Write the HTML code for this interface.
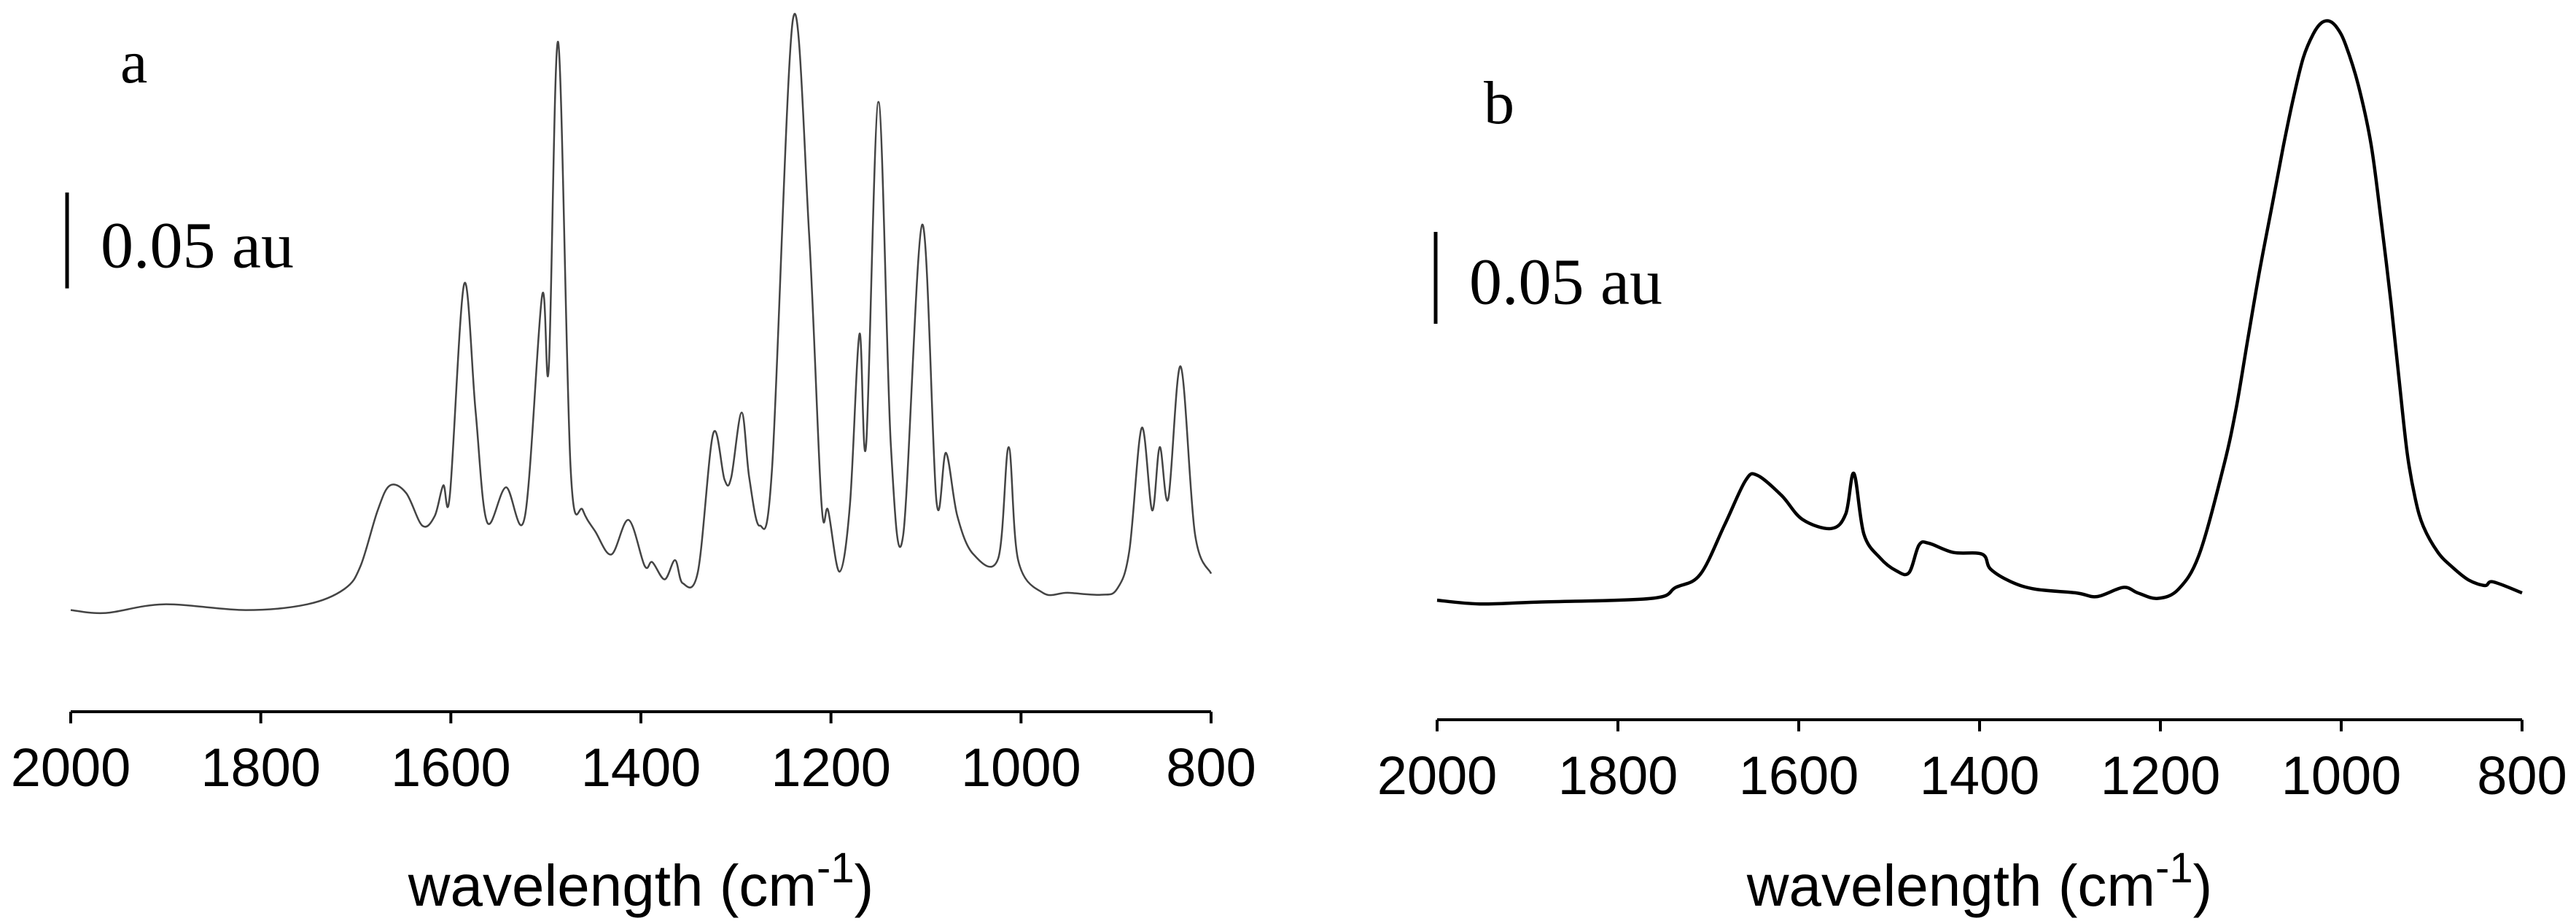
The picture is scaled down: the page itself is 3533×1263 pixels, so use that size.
<!DOCTYPE html>
<html><head><meta charset="utf-8"><style>
html,body{margin:0;padding:0;background:#fff;}
svg{display:block;}
</style></head><body>
<svg id="chart" width="3533" height="1263" viewBox="0 0 3533 1263" xmlns="http://www.w3.org/2000/svg">
<g id="panelA"></g>
<g id="panelB"></g>
</svg>
<script>
const tickLabels = [2000, 1800, 1600, 1400, 1200, 1000, 800];
const wnA = [2000,1963,1902,1816,1751,1712,1695,1677,1664,1647,1630,1617,1608,1601,1586,1574,1562,1542,1522,1504,1497,1487,1474,1461,1448,1431,1413,1396,1388,1375,1364,1356,1340,1324,1312,1305,1294,1286,1275,1262,1240,1223,1210,1203,1191,1180,1170,1163,1150,1137,1124,1104,1089,1079,1067,1050,1024,1013,1003,977,951,916,899,886,873,862,854,845,832,817,800];
const absA = [0.053,0.0515,0.056,0.053,0.056,0.064,0.076,0.105,0.118,0.114,0.097,0.102,0.118,0.113,0.223,0.157,0.099,0.117,0.102,0.217,0.179,0.349,0.127,0.105,0.094,0.082,0.100,0.076,0.078,0.069,0.079,0.067,0.073,0.145,0.121,0.122,0.156,0.122,0.097,0.127,0.361,0.249,0.109,0.105,0.073,0.108,0.197,0.139,0.318,0.139,0.092,0.254,0.110,0.135,0.102,0.082,0.080,0.138,0.079,0.062,0.062,0.061,0.064,0.084,0.148,0.105,0.138,0.111,0.180,0.093,0.072];
const wnB = [2000,1953,1890,1763,1736,1709,1682,1659,1646,1619,1596,1564,1548,1539,1528,1510,1492,1478,1467,1456,1429,1397,1388,1365,1338,1293,1270,1241,1225,1203,1180,1157,1130,1116,1103,1090,1076,1064,1053,1042,1031,1022,1013,1004,995,981,967,956,945,936,927,918,909,893,877,859,841,832,800];
const absB = [0.065,0.063,0.064,0.066,0.072,0.079,0.106,0.130,0.133,0.122,0.109,0.104,0.112,0.134,0.101,0.088,0.081,0.080,0.095,0.096,0.091,0.090,0.082,0.075,0.071,0.069,0.067,0.072,0.069,0.066,0.071,0.090,0.138,0.170,0.208,0.245,0.281,0.312,0.338,0.360,0.373,0.379,0.380,0.376,0.367,0.345,0.313,0.272,0.227,0.185,0.145,0.120,0.105,0.091,0.083,0.076,0.073,0.075,0.069];

const NS = 'http://www.w3.org/2000/svg';
function mk(parent, tag, attrs) {
  const e = document.createElementNS(NS, tag);
  for (const k in attrs) e.setAttribute(k, attrs[k]);
  parent.appendChild(e);
  return e;
}

function smoothPath(pts) {
  let d = 'M' + pts[0][0].toFixed(1) + ',' + pts[0][1].toFixed(1);
  for (let i = 0; i < pts.length - 1; i++) {
    const p0 = pts[Math.max(0, i - 1)], p1 = pts[i], p2 = pts[i + 1], p3 = pts[Math.min(pts.length - 1, i + 2)];
    const c1x = p1[0] + (p2[0] - p0[0]) / 6, c1y = p1[1] + (p2[1] - p0[1]) / 6;
    const c2x = p2[0] - (p3[0] - p1[0]) / 6, c2y = p2[1] - (p3[1] - p1[1]) / 6;
    d += 'C' + c1x.toFixed(1) + ',' + c1y.toFixed(1) + ' ' + c2x.toFixed(1) + ',' + c2y.toFixed(1) + ' ' + p2[0].toFixed(1) + ',' + p2[1].toFixed(1);
  }
  return d;
}

function drawPanel(g, cfg, wns, vals) {
  const xScale = function (wn) { return cfg.x0 + (2000 - wn) * (cfg.x1 - cfg.x0) / 1200; };
  const yScale = function (a) { return cfg.axisY - a * cfg.pxPerAu; };

  const axis = mk(g, 'line', {x1: cfg.x0, y1: cfg.axisY, x2: cfg.x1, y2: cfg.axisY, stroke: '#000', 'stroke-width': 4});
  
  

  tickLabels.forEach(function (t) {
    const x = xScale(t);
    const tk = mk(g, 'line', {x1: x, y1: cfg.axisY, x2: x, y2: cfg.axisY + 16, stroke: '#000', 'stroke-width': 4});
    
    
    const lb = mk(g, 'text', {x: x, y: cfg.axisY + 102, 'text-anchor': 'middle', 'font-family': 'Liberation Sans, Arial, sans-serif', 'font-size': 74, fill: '#000'});
    lb.textContent = String(t);
    
    
  });

  const title = mk(g, 'text', {x: (cfg.x0 + cfg.x1) / 2, y: 1242, 'text-anchor': 'middle', 'font-family': 'Liberation Sans, Arial, sans-serif', 'font-size': 80, fill: '#000'});
  
  
  const t1 = mk(title, 'tspan', {});
  t1.textContent = 'wavelength (cm';
  const t2 = mk(title, 'tspan', {dy: -32, 'font-size': 58});
  t2.textContent = '-1';
  const t3 = mk(title, 'tspan', {dy: 32});
  t3.textContent = ')';

  const bar = mk(g, 'line', {x1: cfg.barX, y1: cfg.barTop, x2: cfg.barX, y2: cfg.barTop + 0.05 * cfg.pxPerAu, stroke: '#000', 'stroke-width': 5});
  
  
  const bt = mk(g, 'text', {x: cfg.barX + 46, y: cfg.barTop + 0.05 * cfg.pxPerAu * 0.78, 'font-family': 'Liberation Serif, Times New Roman, serif', 'font-size': 90, fill: '#000'});
  bt.textContent = '0.05 au';
  
  

  const pl = mk(g, 'text', {x: cfg.letterX, y: cfg.letterY, 'font-family': 'Liberation Serif, Times New Roman, serif', 'font-size': 84, fill: '#000'});
  pl.textContent = cfg.letter;
  
  

  const pts = [];
  for (let i = 0; i < wns.length; i++) pts.push([xScale(wns[i]), yScale(vals[i])]);
  const path = mk(g, 'path', {d: smoothPath(pts), fill: 'none', stroke: cfg.color, 'stroke-width': cfg.lw, 'stroke-linejoin': 'round'});
  
  
}

drawPanel(document.getElementById('panelA'),
  {x0: 97, x1: 1661, axisY: 976, pxPerAu: 2630, barX: 92, barTop: 264, letterX: 165, letterY: 113, letter: 'a', color: '#444', lw: 2.5},
  wnA, absA);
drawPanel(document.getElementById('panelB'),
  {x0: 1971, x1: 3459, axisY: 987, pxPerAu: 2521, barX: 1969, barTop: 318, letterX: 2035, letterY: 169, letter: 'b', color: '#000', lw: 4.5},
  wnB, absB);
</script>
</body></html>
